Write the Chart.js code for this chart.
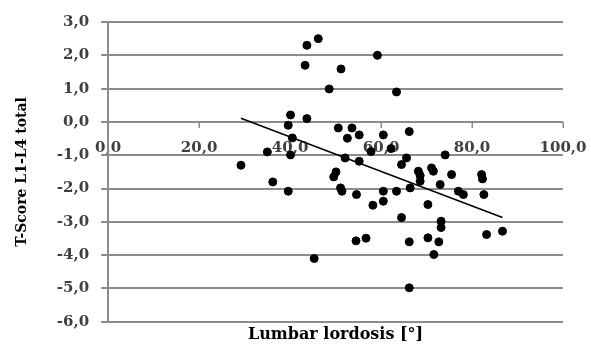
<!DOCTYPE html>
<html>
<head>
<meta charset="utf-8">
<script src="https://cdn.jsdelivr.net/npm/chart.js@4"></script>
<style>
  body { margin: 0; background: #fff; }
</style>
</head>
<body>
<canvas id="chart" width="591" height="344"></canvas>
<script>
// lumbar lordosis [deg] vs T-score L1-L4
let lordosis = [46.2, 43.7, 59.2, 43.3, 51.2, 48.6, 63.4, 40.1, 43.7, 39.6,
                50.6, 53.6, 55.2, 60.5, 52.6, 40.5, 66.2, 35.0, 40.1, 57.8,
                62.2, 74.1, 65.6, 52.1, 55.2, 64.5, 29.2, 71.1, 71.5, 68.2,
                68.6, 75.5, 82.1, 82.3, 50.1, 49.6, 68.6, 73.0, 66.4, 36.2,
                39.6, 51.1, 51.4, 54.6, 60.5, 63.4, 77.0, 78.1, 82.6, 60.5,
                58.2, 70.3, 64.5, 73.2, 73.2, 83.2, 86.7, 66.2, 70.3, 72.7,
                71.6, 54.5, 56.7, 45.3, 66.2];
let tScore = [2.50, 2.30, 2.00, 1.70, 1.59, 0.99, 0.90, 0.21, 0.10, -0.10,
              -0.18, -0.18, -0.39, -0.39, -0.49, -0.48, -0.29, -0.90, -0.99, -0.89,
              -0.80, -0.99, -1.08, -1.08, -1.18, -1.28, -1.30, -1.38, -1.48, -1.48,
              -1.61, -1.58, -1.58, -1.71, -1.50, -1.65, -1.78, -1.88, -1.98, -1.80,
              -2.08, -1.98, -2.08, -2.18, -2.08, -2.08, -2.08, -2.18, -2.18, -2.38,
              -2.50, -2.48, -2.87, -2.98, -3.17, -3.38, -3.28, -3.60, -3.48, -3.60,
              -3.98, -3.57, -3.49, -4.10, -4.98];

// linear trend line end points
let trendX = [29.2, 86.7];
let trendY = [0.11, -2.87];

let xTicks = [0, 20, 40, 60, 80, 100];
let xTickLabels = ['0,0', '20,0', '40,0', '60,0', '80,0', '100,0'];
let yTicks = [-6, -5, -4, -3, -2, -1, 0, 1, 2, 3];
let yTickLabels = ['-6,0', '-5,0', '-4,0', '-3,0', '-2,0', '-1,0', '0,0', '1,0', '2,0', '3,0'];

let gridColor = '#8c8c8c';

function toPoints(xs, ys) {
    return xs.map(function (x, i) { return { x: x, y: ys[i] }; });
}

/* gridlines and tick marks, placed by the chart's own scales */
let gridPlugin = {
    id: 'gridLines',
    beforeDatasetsDraw: function (chart) {
        let ctx = chart.ctx;
        let area = chart.chartArea;
        let xs = chart.scales.x;
        let ys = chart.scales.y;
        let y0 = Math.round(ys.getPixelForValue(0));
        ctx.save();
        ctx.globalAlpha = 1;
        ctx.setLineDash([]);
        ctx.strokeStyle = gridColor;
        ctx.lineWidth = 2;
        yTicks.forEach(function (v) {
            let y = Math.round(ys.getPixelForValue(v));
            ctx.beginPath();
            ctx.moveTo(area.left - 7, y);
            ctx.lineTo(area.right, y);
            ctx.stroke();
        });
        ctx.lineWidth = 1.5;
        xTicks.forEach(function (v) {
            let x = Math.round(xs.getPixelForValue(v)) + 0.25;
            ctx.beginPath();
            ctx.moveTo(x, y0);
            ctx.lineTo(x, y0 + 6);
            ctx.stroke();
        });
        ctx.restore();
    }
};

new Chart(document.getElementById('chart'), {
    type: 'scatter',
    data: {
        datasets: [{
            data: toPoints(lordosis, tScore),
            backgroundColor: '#000',
            borderColor: '#000',
            pointRadius: 4,
            pointHoverRadius: 4
        }, {
            data: toPoints(trendX, trendY),
            showLine: true,
            borderColor: '#000',
            borderWidth: 1.5,
            pointRadius: 0,
            pointHoverRadius: 0
        }]
    },
    plugins: [gridPlugin],
    options: {
        responsive: false,
        animation: false,
        layout: { padding: { left: 6, right: 28, top: 22, bottom: 0 } },
        plugins: { legend: { display: false }, tooltip: { enabled: false } },
        scales: {
            x: {
                type: 'linear',
                position: { y: 0 },
                min: 0, max: 100,
                afterFit: function (axis) {
                    axis.paddingLeft = 0;
                    axis.paddingRight = 0;
                },
                grid: { drawOnChartArea: false, tickLength: 5, color: 'rgba(0,0,0,0)' },
                border: { display: false },
                ticks: {
                    stepSize: 20,
                    padding: 12,
                    color: '#404040',
                    font: { family: 'DejaVu Serif', size: 15, weight: 'bold' },
                    maxRotation: 0,
                    callback: function (v) { return xTickLabels[xTicks.indexOf(v)]; }
                }
            },
            x2: {
                type: 'linear',
                position: 'bottom',
                min: 0, max: 100,
                grid: { display: false, drawTicks: false },
                border: { display: false },
                ticks: { display: false },
                title: {
                    display: true,
                    text: 'Lumbar lordosis [°]',
                    color: '#000',
                    font: { family: 'DejaVu Serif', size: 16, weight: 'bold' },
                    padding: { top: 3, bottom: 0 }
                }
            },
            y: {
                type: 'linear',
                position: 'left',
                min: -6, max: 3,
                grid: { color: 'rgba(0,0,0,0)', lineWidth: 2, tickLength: 7 },
                border: { color: '#8c8c8c', width: 2 },
                ticks: {
                    stepSize: 1,
                    padding: 12,
                    color: '#404040',
                    font: { family: 'DejaVu Serif', size: 15, weight: 'bold' },
                    callback: function (v) { return yTickLabels[yTicks.indexOf(v)]; }
                },
                title: {
                    display: true,
                    text: 'T-Score L1-L4 total',
                    color: '#000',
                    font: { family: 'DejaVu Serif', size: 14, weight: 'bold' },
                    padding: { top: 8, bottom: 14 }
                }
            }
        }
    }
});
</script>
</body>
</html>
